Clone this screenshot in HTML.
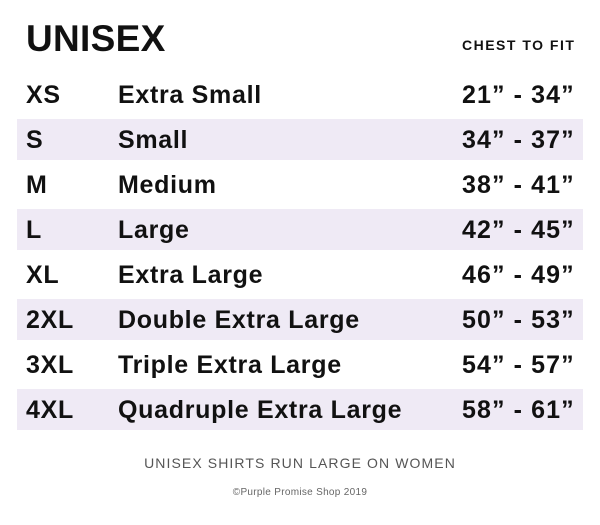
<!DOCTYPE html>
<html><head><style>
body{margin:0;width:600px;height:525px;background:#fff;position:relative;overflow:hidden;font-family:"Liberation Sans",sans-serif;color:#111}
div{position:absolute;white-space:nowrap}
.b{font-weight:bold}
.band{left:17px;width:566px;height:41px;background:#efeaf5}
.r{font-size:25px;font-weight:bold;line-height:30px;letter-spacing:0.7px}
.v{letter-spacing:1.1px}
</style></head><body>
<div class="b" style="left:26px;top:17px;font-size:37px;line-height:44px;letter-spacing:0.3px">UNISEX</div>
<div class="b" style="left:462px;top:36px;font-size:14px;line-height:18px;letter-spacing:1.5px">CHEST TO FIT</div>
<div class="band" style="top:119px"></div>
<div class="band" style="top:209px"></div>
<div class="band" style="top:299px"></div>
<div class="band" style="top:389px"></div>

<div class="r" style="left:26px;top:80px">XS</div><div class="r" style="left:118px;top:80px">Extra Small</div><div class="r v" style="left:462px;top:80px">21” - 34”</div>
<div class="r" style="left:26px;top:125px">S</div><div class="r" style="left:118px;top:125px">Small</div><div class="r v" style="left:462px;top:125px">34” - 37”</div>
<div class="r" style="left:26px;top:170px">M</div><div class="r" style="left:118px;top:170px">Medium</div><div class="r v" style="left:462px;top:170px">38” - 41”</div>
<div class="r" style="left:26px;top:215px">L</div><div class="r" style="left:118px;top:215px">Large</div><div class="r v" style="left:462px;top:215px">42” - 45”</div>
<div class="r" style="left:26px;top:260px">XL</div><div class="r" style="left:118px;top:260px">Extra Large</div><div class="r v" style="left:462px;top:260px">46” - 49”</div>
<div class="r" style="left:26px;top:305px">2XL</div><div class="r" style="left:118px;top:305px">Double Extra Large</div><div class="r v" style="left:462px;top:305px">50” - 53”</div>
<div class="r" style="left:26px;top:350px">3XL</div><div class="r" style="left:118px;top:350px">Triple Extra Large</div><div class="r v" style="left:462px;top:350px">54” - 57”</div>
<div class="r" style="left:26px;top:395px">4XL</div><div class="r" style="left:118px;top:395px">Quadruple Extra Large</div><div class="r v" style="left:462px;top:395px">58” - 61”</div>

<div style="left:0;width:600px;text-align:center;top:454px;font-size:14px;line-height:18px;color:#555;letter-spacing:1.1px">UNISEX SHIRTS RUN LARGE ON WOMEN</div>
<div style="left:0;width:600px;text-align:center;top:487px;font-size:10px;line-height:12px;color:#666;letter-spacing:0.3px">©Purple Promise Shop 2019</div>
</body></html>
